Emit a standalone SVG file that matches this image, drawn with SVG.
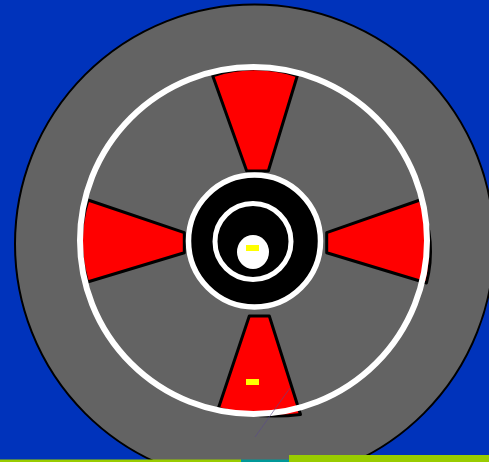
<svg xmlns="http://www.w3.org/2000/svg" width="489" height="462" viewBox="0 0 489 462">
<style>
.wedge{fill:#f00;stroke:#000;stroke-width:3;stroke-linejoin:round}
.ring{fill:none;stroke:#fff}
.mark{fill:#ff0}
.lime{fill:#9c0}
</style>
<rect width="489" height="462" fill="#0033bb"/>
<circle id="wheel" cx="254.500" cy="244" r="239.500" fill="#636363" stroke="#000" stroke-width="2"/>
<g id="wedges">
<path id="wedge-top" class="wedge" d="M212.700 75.700Q255 62 297.300 75.700L268.300 171H246.700Z"/>
<path id="wedge-right" class="wedge" d="M326.700 232.700L420 200Q437 242 426.500 283L326.700 252.700Z"/>
<path id="wedge-bottom" class="wedge" d="M249.300 316H269.300L300.500 414.500Q260 419.500 218.300 408.500Z"/>
<path id="wedge-left" class="wedge" d="M184.300 232.700L88 200Q75 240 87.500 282L184.300 252.700Z"/>
</g>
<circle id="outer-ring" class="ring" cx="253.500" cy="240.500" r="173.500" stroke-width="6"/>
<g id="hub">
<circle cx="254.500" cy="241" r="66" fill="#000" stroke="#fff" stroke-width="5.500"/>
<circle class="ring" cx="253" cy="241.500" r="38" stroke-width="5"/>
<ellipse cx="253" cy="252" rx="16" ry="17" fill="#fff"/>
<rect class="mark" x="246" y="245" width="13" height="6"/>
</g>
<rect id="mark-bottom" class="mark" x="246" y="379" width="13" height="6"/>
<g id="connectors">
<line x1="255" y1="437" x2="290" y2="388" stroke="#5a4a8a" stroke-opacity=".6" stroke-width="1"/>
</g>
<g id="strip">
<rect class="lime" x="0" y="459.500" width="241" height="2.500"/>
<rect x="241" y="459.500" width="48" height="2.500" fill="#009999"/>
<rect class="lime" x="289" y="455" width="200" height="7"/>
</g>
</svg>
